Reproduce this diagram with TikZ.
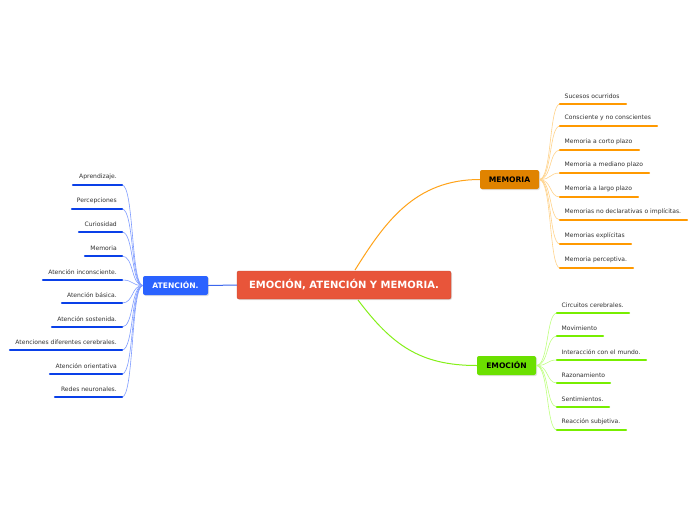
\documentclass[tikz,border=0pt]{standalone}
\usepackage{fontspec}
\setmainfont{DejaVu Sans}
\usetikzlibrary{shadows}
\definecolor{cred}{HTML}{E8553A}
\definecolor{cora}{HTML}{E08300}
\definecolor{cgrn}{HTML}{6BE000}
\definecolor{cblu}{HTML}{2A62FF}
\definecolor{lora}{HTML}{FF9900}
\definecolor{lgrn}{HTML}{77EE00}
\definecolor{lblu}{HTML}{0A40E8}
\definecolor{fora}{HTML}{FFD38A}
\definecolor{fgrn}{HTML}{BFFF80}
\definecolor{fblu}{HTML}{7F9CFF}
\definecolor{txt}{HTML}{333333}
\tikzset{
  mainbox/.style={rounded corners=2pt, inner sep=0pt, font=\bfseries\fontsize{10}{12}\selectfont,
    drop shadow={opacity=0.25, shadow xshift=1pt, shadow yshift=-1pt}},
  subbox/.style={rounded corners=2pt, inner sep=0pt, font=\bfseries\fontsize{7.6}{9}\selectfont,
    minimum height=19pt, drop shadow={opacity=0.25, shadow xshift=1pt, shadow yshift=-1pt}},
  ctext/.style={font=\fontsize{6.05}{7}\selectfont, text=txt, inner sep=0pt},
  uline/.style={line width=2.4pt, line cap=round},
  fan/.style={line width=0.6pt},
}
\begin{document}
\begin{tikzpicture}[x=1pt,y=-1pt]
\useasboundingbox (0,0) rectangle (696,520);
\fill[white] (0,0) rectangle (696,520);

% main connectors (drawn first)
\coordinate (cm) at (355,270);
\coordinate (ce) at (358,300);
\node[subbox, fill=cora, minimum width=59pt, text=black] (mem) at (509.5,179.5) {MEMORIA};
\node[subbox, fill=cgrn, minimum width=59pt, text=black] (emo) at (506.5,365.5) {EMOCIÓN};
\node[subbox, fill=cblu, minimum width=65pt, text=white] (ate) at (175.5,285.5) {ATENCIÓN.};
\draw[lora!90, line width=1pt] (cm) .. controls (385,222) and (415,179.5) .. (mem.west);
\draw[lgrn!90, line width=1pt] (ce) .. controls (392,345) and (420,365.5) .. (emo.west);
\node[mainbox, fill=cred, draw=cred!85!black, minimum width=214pt, minimum height=28pt, text=white] (c) at (344,285) {EMOCIÓN, ATENCIÓN Y MEMORIA.};
\draw[lblu!80, line width=1pt] (c.west) -- (ate.east);

% MEMORIA children
\foreach \ty/\xe/\t [count=\i] in {
  96/626/Sucesos ocurridos,
  118/657/Consciente y no conscientes,
  142/639/Memoria a corto plazo,
  165/649/Memoria a mediano plazo,
  189/638/Memoria a largo plazo,
  212/687/Memorias no declarativas o implícitas.,
  236/631/Memorias explícitas,
  260/633/Memoria perceptiva.}{
  \node[ctext, anchor=west] (m\i) at (564.5,\ty) {\t};
  \coordinate (ma\i) at (560,\ty+8);
  \coordinate (mb\i) at (\xe,\ty+8);
  \draw[fan, fora] (mem.east) .. controls (552,179.5) and (549,\ty+8) .. (ma\i);
  \draw[uline, lora] (ma\i) -- (mb\i);
}

% EMOCION children
\foreach \ty/\xe/\t [count=\i] in {
  305/629/Circuitos cerebrales.,
  328/603/Movimiento,
  352/646/Interacción con el mundo.,
  375/610/Razonamiento,
  399/609/Sentimientos.,
  422/626/Reacción subjetiva.}{
  \node[ctext, anchor=west] (e\i) at (561.5,\ty) {\t};
  \coordinate (ea\i) at (557,\ty+8);
  \coordinate (eb\i) at (\xe,\ty+8);
  \draw[fan, fgrn] (emo.east) .. controls (549,365.5) and (546,\ty+8) .. (ea\i);
  \draw[uline, lgrn] (ea\i) -- (eb\i);
}

% ATENCION children
\foreach \ty/\xs/\t [count=\i] in {
  177/73/Aprendizaje.,
  201/72/Percepciones,
  224/79/Curiosidad,
  248/85/Memoria,
  272/43/Atención inconsciente.,
  295/62/Atención básica.,
  319/52/Atención sostenida.,
  342/10/Atenciones diferentes cerebrales.,
  366/50/Atención orientativa,
  389/55/Redes neuronales.}{
  \node[ctext, anchor=east] (a\i) at (117,\ty) {\t};
  \coordinate (aa\i) at (122,\ty+8);
  \coordinate (ab\i) at (\xs,\ty+8);
  \draw[fan, fblu] (ate.west) .. controls (131,285.5) and (134,\ty+8) .. (aa\i);
  \draw[uline, lblu] (ab\i) -- (aa\i);
}
\end{tikzpicture}
\end{document}
